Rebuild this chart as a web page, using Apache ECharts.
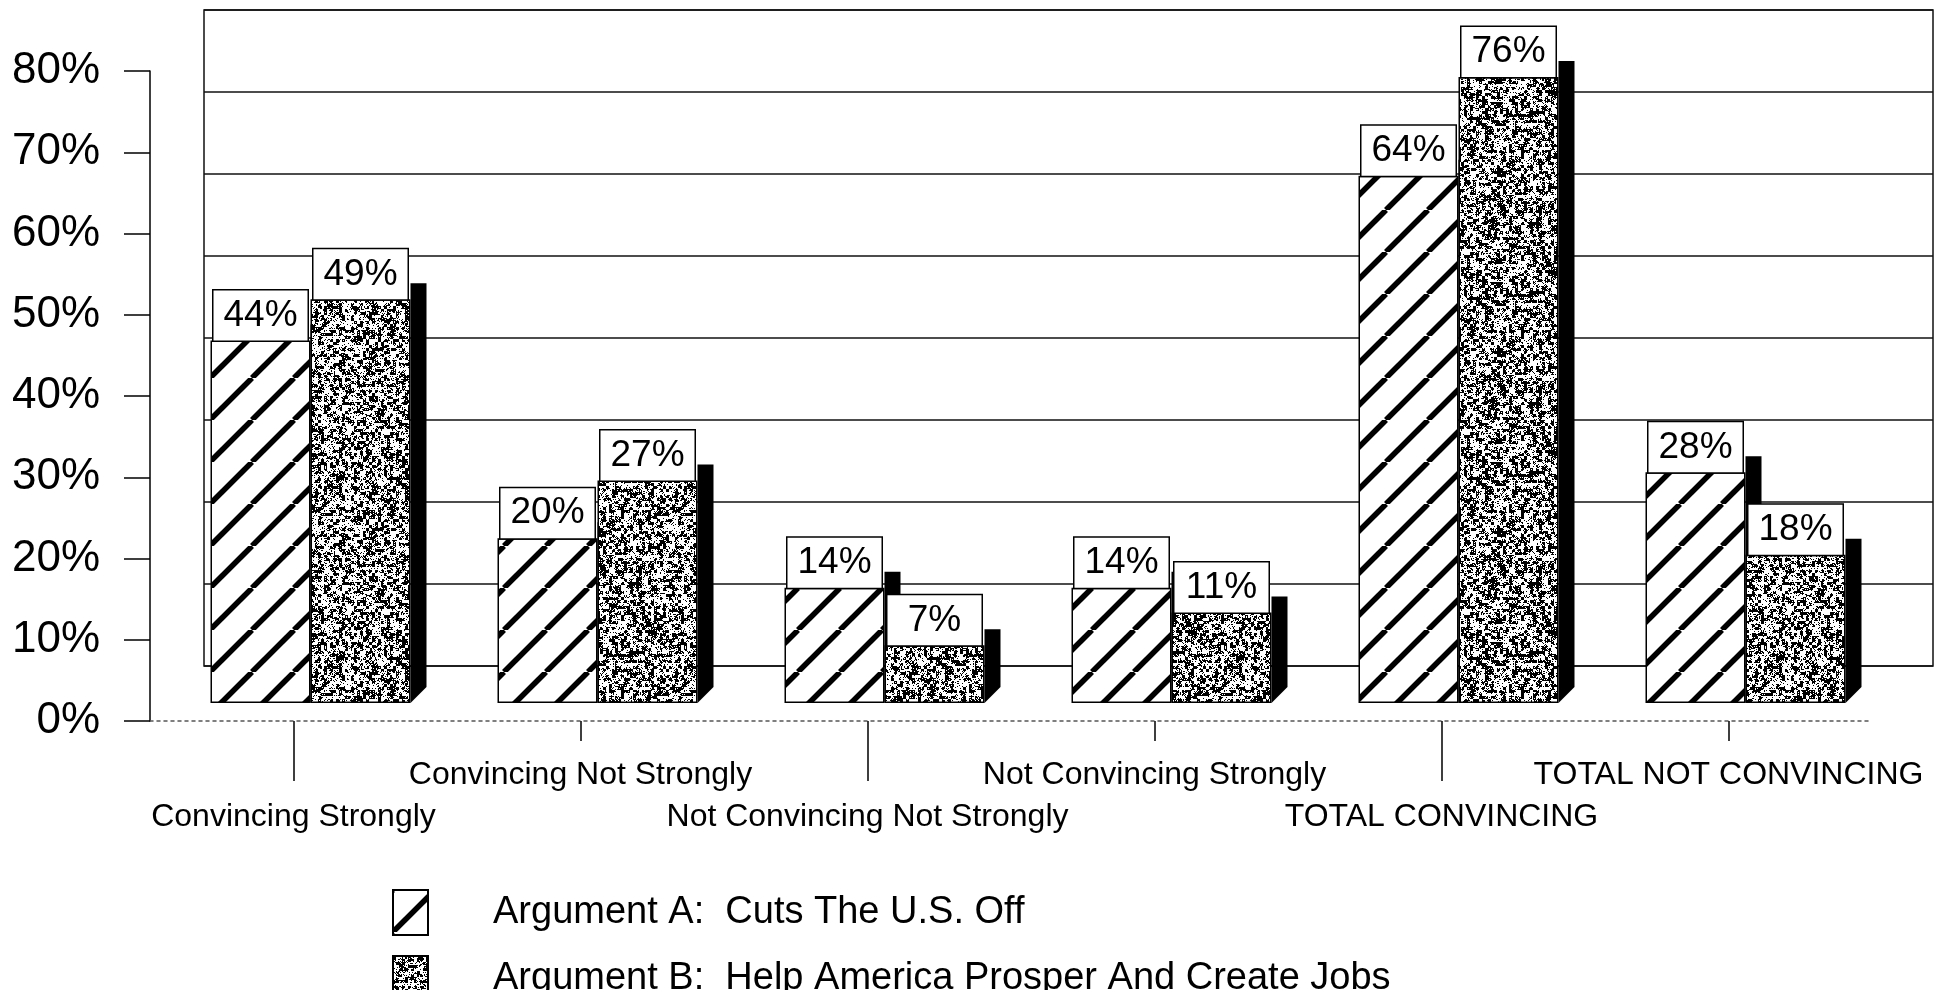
<!DOCTYPE html>
<html>
<head>
<meta charset="utf-8">
<script src="https://cdn.jsdelivr.net/npm/echarts@6/dist/echarts.min.js"></script>
<style>
html,body{margin:0;padding:0;background:#fff;}
#chart{width:1948px;height:990px;}
</style>
</head>
<body>
<div id="chart"></div>
<script>
const categories = ['Convincing Strongly','Convincing Not Strongly','Not Convincing Not Strongly','Not Convincing Strongly','TOTAL CONVINCING','TOTAL NOT CONVINCING'];
const seriesNames = ['Argument A:  Cuts The U.S. Off','Argument B:  Help America Prosper And Create Jobs'];
const valuesA = [44, 20, 14, 14, 64, 28];
const valuesB = [49, 27, 7, 11, 76, 18];
const yTicks = [0, 10, 20, 30, 40, 50, 60, 70, 80];

// stripe pattern
function stripePattern(){
  const s = 42, c = document.createElement('canvas');
  c.width = s; c.height = s;
  const g = c.getContext('2d');
  g.fillStyle = '#fff'; g.fillRect(0,0,s,s);
  g.strokeStyle = '#000'; g.lineWidth = 5.5;
  for (const k of [-s, 0, s]) {
    g.beginPath(); g.moveTo(k, s); g.lineTo(k + s, 0); g.stroke();
  }
  return c;
}
// deterministic speckle pattern (clumpy)
function speckPattern(){
  const s = 180, c = document.createElement('canvas');
  c.width = s; c.height = s;
  const g = c.getContext('2d');
  g.fillStyle = '#fff'; g.fillRect(0,0,s,s);
  g.fillStyle = '#000';
  const h = (x,y)=>{ const v = Math.sin(x*12.9898 + y*78.233)*43758.5453; return v - Math.floor(v); };
  for (let y = 0; y < s; y += 3) for (let x = 0; x < s; x += 3) {
    if (h(x, y) < 0.45) g.fillRect(x, y, 3, 3);
  }
  for (let y = 0; y < s; y++) for (let x = 0; x < s; x++) {
    const v = h(x + 0.37, y + 0.71);
    if (v < 0.14) g.fillRect(x, y, 1, 1);
    else if (v > 0.86) { g.fillStyle = '#fff'; g.fillRect(x, y, 1, 1); g.fillStyle = '#000'; }
  }
  return c;
}

const BAR_W = 100, DEPTH = 16;
const shadowData = [];
valuesA.forEach((v,i)=>shadowData.push([i, v, 0]));
valuesB.forEach((v,i)=>shadowData.push([i, v, 1]));

const chart = echarts.init(document.getElementById('chart'));
const font = 'Liberation Sans, Arial, sans-serif';
const labelStyle = { show: true, position: 'top', distance: 0, formatter: '{c}%', fontSize: 37, color: '#000', fontFamily: font,
  backgroundColor: '#fff', borderColor: '#000', borderWidth: 1.5, width: 94, align: 'center', lineHeight: 40, padding: [5, 0, 5, 0] };
chart.setOption({
  animation: false,
  backgroundColor: '#fff',
  textStyle: { fontFamily: font, color: '#000' },
  grid: [
    { left: 150, right: 76, top: 71, bottom: 269 },           // front axes
    { left: 204, right: 15, top: 10, bottom: 324, show: true, borderColor: '#111', borderWidth: 1.5, backgroundColor: 'transparent' }, // back wall
    { left: 167, right: 59, top: 44, bottom: 287 }            // bars
  ],
  xAxis: [
    { gridIndex: 0, type: 'category', data: categories, position: 'bottom',
      axisLine: { show: true, lineStyle: { color: '#555', width: 1.5, type: [3, 4] } },
      axisTick: { show: true, alignWithLabel: true, length: 60, interval: (i)=> i % 2 === 0, lineStyle: { color: '#000', width: 1.5 } },
      axisLabel: { interval: (i)=> i % 2 === 0, margin: 80, fontSize: 32, color: '#000', fontFamily: font } },
    { gridIndex: 0, type: 'category', data: categories, position: 'bottom',
      axisLine: { show: false },
      axisTick: { show: true, alignWithLabel: true, length: 20, interval: (i)=> i % 2 === 1, lineStyle: { color: '#000', width: 1.5 } },
      axisLabel: { interval: (i)=> i % 2 === 1, margin: 38, fontSize: 32, color: '#000', fontFamily: font } },
    { gridIndex: 1, type: 'category', data: categories, show: false },
    { gridIndex: 2, type: 'category', data: categories, show: false }
  ],
  yAxis: [
    { gridIndex: 0, type: 'value', min: 0, max: 80, interval: 10,
      axisLine: { show: true, lineStyle: { color: '#000', width: 1.5 } },
      axisTick: { show: true, length: 26, lineStyle: { color: '#000', width: 1.5 } },
      axisLabel: { margin: 50, fontSize: 44, color: '#000', fontFamily: font, formatter: (v)=> yTicks.includes(v) ? v + '%' : '' },
      splitLine: { show: false } },
    { gridIndex: 1, type: 'value', min: 0, max: 80, interval: 10,
      axisLine: { show: false }, axisTick: { show: false }, axisLabel: { show: false },
      splitLine: { show: true, lineStyle: { color: '#111', width: 1.5 } } },
    { gridIndex: 2, type: 'value', min: 0, max: 80, show: false, splitLine: { show: false } }
  ],
  legend: {
    orient: 'vertical', left: 387, top: 884, height: 220, padding: 5, itemWidth: 35, itemHeight: 45, itemGap: 19,
    icon: 'rect', data: seriesNames,
    textStyle: { fontSize: 38, color: '#000', fontFamily: font, padding: [0, 0, 0, 60] }
  },
  series: [
    { type: 'custom', xAxisIndex: 3, yAxisIndex: 2, z: 1, silent: true, data: shadowData,
      renderItem: (params, api) => {
        const cat = api.value(0), v = api.value(1), which = api.value(2);
        const top = api.coord([cat, v]);
        const base = api.coord([cat, 0]);
        const x0 = top[0] - BAR_W + which * BAR_W;
        const xr = x0 + BAR_W;
        return { type: 'polygon', shape: { points: [
            [xr, top[1] - DEPTH], [xr + DEPTH, top[1] - DEPTH], [xr + DEPTH, base[1] - DEPTH], [xr, base[1]]
          ] }, style: { fill: '#000' } };
      } },
    { name: seriesNames[0], type: 'bar', xAxisIndex: 3, yAxisIndex: 2, z: 3, data: valuesA,
      barWidth: BAR_W, barGap: '0%',
      itemStyle: { color: { image: stripePattern(), repeat: 'repeat' }, borderColor: '#000', borderWidth: 1.5 },
      label: labelStyle },
    { name: seriesNames[1], type: 'bar', xAxisIndex: 3, yAxisIndex: 2, z: 3, data: valuesB,
      barWidth: BAR_W, barGap: '0%',
      itemStyle: { color: { image: speckPattern(), repeat: 'repeat' }, borderColor: '#000', borderWidth: 1.5 },
      label: labelStyle }
  ]
});
</script>
</body>
</html>
